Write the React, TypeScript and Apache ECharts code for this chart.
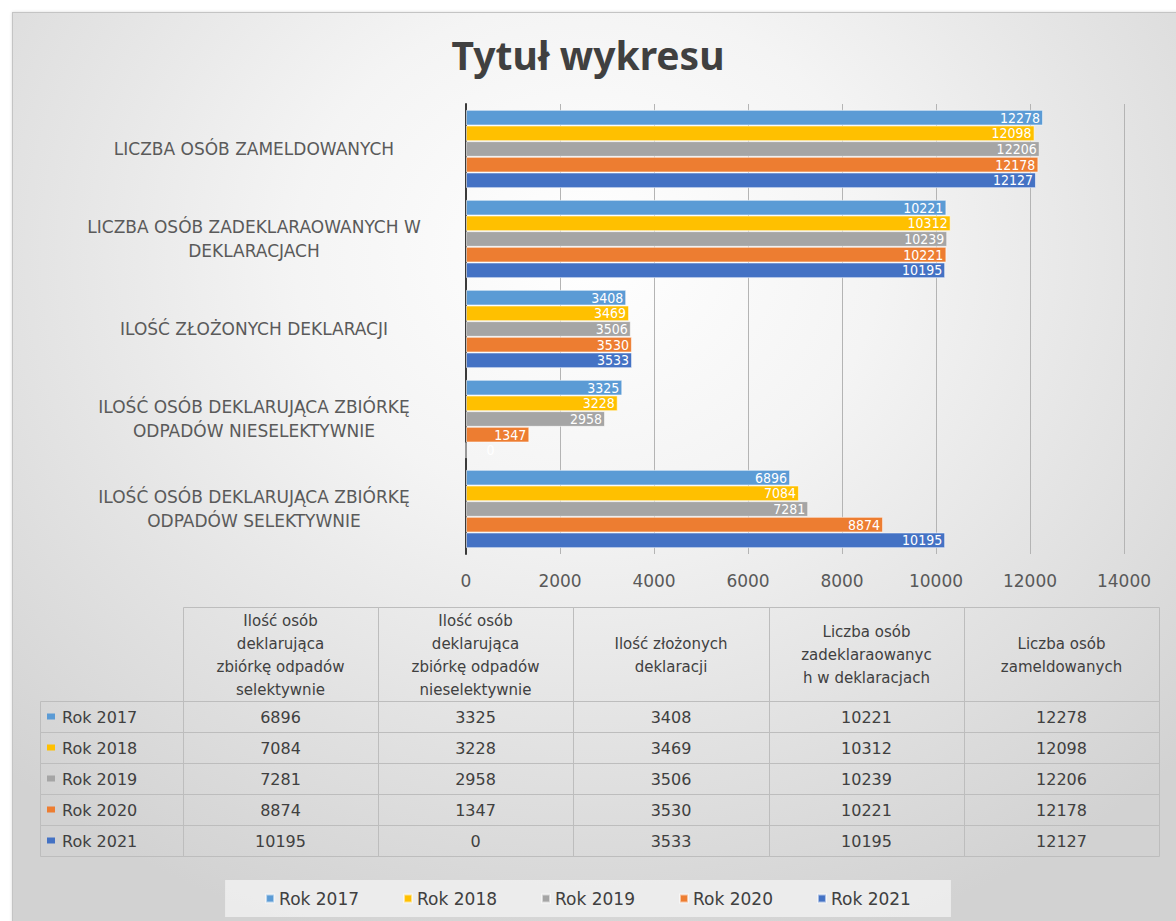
import React, { useEffect, useRef } from 'react';
import * as echarts from 'echarts';

const categories = [
  'Ilość osób deklarująca zbiórkę odpadów selektywnie',
  'Ilość osób deklarująca zbiórkę odpadów nieselektywnie',
  'Ilość złożonych deklaracji',
  'Liczba osób zadeklaraowanych w deklaracjach',
  'Liczba osób zameldowanych',
];

const tableHeaders = [
  'Ilość osób\ndeklarująca\nzbiórkę odpadów\nselektywnie',
  'Ilość osób\ndeklarująca\nzbiórkę odpadów\nnieselektywnie',
  'Ilość złożonych\ndeklaracji',
  'Liczba osób\nzadeklaraowanyc\nh w deklaracjach',
  'Liczba osób\nzameldowanych',
];

const years = ['Rok 2017', 'Rok 2018', 'Rok 2019', 'Rok 2020', 'Rok 2021'];
const rok2017 = [6896, 3325, 3408, 10221, 12278];
const rok2018 = [7084, 3228, 3469, 10312, 12098];
const rok2019 = [7281, 2958, 3506, 10239, 12206];
const rok2020 = [8874, 1347, 3530, 10221, 12178];
const rok2021 = [10195, 0, 3533, 10195, 12127];
const seriesValues = [rok2017, rok2018, rok2019, rok2020, rok2021];
const colors = ['#5B9BD5', '#FFC000', '#A5A5A5', '#ED7D31', '#4472C4'];

const xMin = 0;
const xMax = 14000;
const xInterval = 2000;

function wrapUpper(s: string, max: number): string {
  const words = s.toUpperCase().split(' ');
  const lines: string[] = [];
  let cur = '';
  for (const w of words) {
    const t = cur ? cur + ' ' + w : w;
    if (t.length > max && cur) {
      lines.push(cur);
      cur = w;
    } else cur = t;
  }
  if (cur) lines.push(cur);
  return lines.join('\n');
}

export default function App() {
  const ref = useRef<HTMLDivElement>(null);
  useEffect(() => {
    if (!ref.current) return;
    const chart = echarts.init(ref.current, undefined, { renderer: 'svg' });

    const tLeft = 40;
    const tColStart = 183;
    const tColW = 195.2;
    const tTop = 607;
    const tHeadH = 94;
    const tRowH = 31;
    const border = '#bdbdbd';
    const txt = '#404040';
    const font = 'DejaVu Sans';
    const colX = (i: number) => Math.round(tColStart + i * tColW);
    const g: any[] = [];
    tableHeaders.forEach((h, i) => {
      const x0 = colX(i);
      const x1 = colX(i + 1);
      g.push({
        type: 'rect',
        shape: { x: x0 + 0.5, y: tTop + 0.5, width: x1 - x0, height: tHeadH },
        style: { fill: 'transparent', stroke: border, lineWidth: 1 },
        silent: true,
      });
      g.push({
        type: 'text',
        x: (x0 + x1) / 2,
        y: tTop + tHeadH / 2 + 1,
        style: {
          text: h, fill: txt, fontSize: 15, fontFamily: font,
          align: 'center', verticalAlign: 'middle', lineHeight: 23,
        },
        silent: true,
      });
    });
    years.forEach((yr, r) => {
      const y = tTop + tHeadH + r * tRowH;
      g.push({
        type: 'rect',
        shape: { x: tLeft + 0.5, y: y + 0.5, width: tColStart - tLeft, height: tRowH },
        style: { fill: 'transparent', stroke: border, lineWidth: 1 },
        silent: true,
      });
      g.push({
        type: 'rect',
        shape: { x: tLeft + 7, y: y + tRowH / 2 - 3, width: 8, height: 6 },
        style: { fill: colors[r] },
        silent: true,
      });
      g.push({
        type: 'text',
        x: tLeft + 22,
        y: y + tRowH / 2 + 1,
        style: { text: yr, fill: txt, fontSize: 16, fontFamily: font, align: 'left', verticalAlign: 'middle' },
        silent: true,
      });
      seriesValues[r].forEach((v, c) => {
        const x0 = colX(c);
        const x1 = colX(c + 1);
        g.push({
          type: 'rect',
          shape: { x: x0 + 0.5, y: y + 0.5, width: x1 - x0, height: tRowH },
          style: { fill: 'transparent', stroke: border, lineWidth: 1 },
          silent: true,
        });
        g.push({
          type: 'text',
          x: (x0 + x1) / 2,
          y: y + tRowH / 2 + 1,
          style: { text: String(v), fill: txt, fontSize: 16, fontFamily: font, align: 'center', verticalAlign: 'middle' },
          silent: true,
        });
      });
    });

    const option: any = {
      animation: false,
      backgroundColor: 'transparent',
      color: colors,
      title: {
        text: 'Tytuł wykresu',
        left: 'center',
        top: 30,
        textStyle: { fontSize: 39, fontWeight: 'bold', color: '#404040', fontFamily: 'Noto Sans' },
      },
      grid: { left: 466, right: 52, top: 104, bottom: 367, containLabel: false },
      xAxis: {
        type: 'value',
        min: xMin,
        max: xMax,
        interval: xInterval,
        axisLine: { show: false },
        axisTick: { show: false },
        axisLabel: {
          color: '#595959', fontSize: 17, fontFamily: font, margin: 18,
          formatter: (v: number) => String(v),
        },
        splitLine: { lineStyle: { color: '#b4b4b4', width: 1 } },
      },
      yAxis: {
        type: 'category',
        data: categories,
        axisLine: { lineStyle: { color: '#3a3a3a', width: 2 } },
        axisTick: { show: false },
        axisLabel: {
          color: '#5a5a5a',
          fontSize: 17,
          fontFamily: font,
          align: 'center',
          margin: 212,
          lineHeight: 24,
          formatter: (v: string) => wrapUpper(v, 31),
        },
      },
      legend: {
        data: years,
        bottom: 4,
        left: 'center',
        icon: 'rect',
        itemWidth: 8,
        itemHeight: 8,
        itemGap: 44,
        padding: [10, 40],
        backgroundColor: 'rgba(240,240,240,0.85)',
        textStyle: { color: txt, fontSize: 17, fontFamily: font },
      },
      graphic: g,
      series: years.map((yr, i) => ({
        name: yr,
        type: 'bar',
        barGap: '0%',
        barCategoryGap: '13%',
        itemStyle: { color: colors[i], borderColor: 'rgba(255,255,255,0.55)', borderWidth: 1 },
        label: {
          show: true,
          position: 'insideRight',
          distance: 3,
          color: '#ffffff',
          fontSize: 14,
          lineHeight: 14,
          fontFamily: "'Liberation Sans Narrow', 'DejaVu Sans Condensed', 'Liberation Sans', sans-serif",
        },
        data: seriesValues[i].map((v) =>
          v === 0 ? { value: v, label: { position: 'right', distance: 20 } } : v
        ),
      })),
    };
    chart.setOption(option);
    return () => chart.dispose();
  }, []);

  return (
    <div style={{ position: 'absolute', left: 0, top: 0, width: 1176, height: 921, overflow: 'hidden', background: '#ffffff' }}>
      <div
        style={{
          position: 'absolute', left: 12, top: 12, width: 1200, height: 960,
          border: '1px solid #c4c4c4', boxSizing: 'border-box',
          background: 'radial-gradient(ellipse 70% 75% at 48% 25%, #ffffff 0%, #f4f4f4 35%, #e4e4e4 65%, #d2d2d2 100%)',
          boxShadow: '0 0 3px rgba(0,0,0,0.15)',
        }}
      />
      <div ref={ref} style={{ position: 'absolute', left: 0, top: 0, width: 1176, height: 921 }} />
    </div>
  );
}
